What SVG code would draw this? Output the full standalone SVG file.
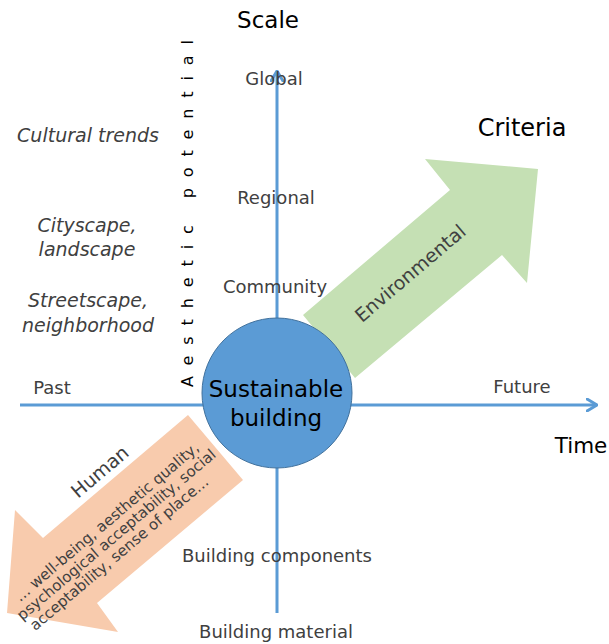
<svg xmlns="http://www.w3.org/2000/svg" width="609" height="644" viewBox="0 0 609 644">
<style>
.lbl{font-family:"DejaVu Sans",sans-serif;font-size:18px;fill:#404040;text-anchor:middle}
.ttl{font-family:"DejaVu Sans",sans-serif;fill:#000;text-anchor:middle}
.it{font-family:"DejaVu Sans",sans-serif;font-style:italic;font-size:19px;fill:#404040;text-anchor:middle}
.axis{stroke:#5b9bd5;stroke-width:3;fill:none}
.arrtxt{font-family:"DejaVu Sans",sans-serif;fill:#404040;text-anchor:middle}
</style>
<defs>
<marker id="chev" viewBox="0 0 12 14" refX="11" refY="7" markerWidth="12" markerHeight="14" markerUnits="userSpaceOnUse" orient="auto">
<path d="M1,1 L11,7 L1,13" fill="none" stroke="#5b9bd5" stroke-width="3" stroke-linecap="round" stroke-linejoin="round"/>
</marker>
</defs>
<rect width="609" height="644" fill="#fff"/>
<g id="connectors">
<line class="axis" x1="20" y1="405" x2="597" y2="405" marker-end="url(#chev)"/>
<line class="axis" x1="277" y1="613" x2="277" y2="71" marker-end="url(#chev)"/>
</g>
<g id="environmental">
<polygon points="303,315 450,190 425,159 538,169 527,283 502,255 355,378" fill="#c5e0b4"/>
<text class="arrtxt" font-size="19" transform="translate(410,273) rotate(-40.4)" x="0" y="7">Environmental</text>
</g>
<g id="human">
<polygon points="188,415 243,480 97,603 118,632 7,613 15,510 43,538" fill="#f8cbad"/>
<g transform="translate(188,415) rotate(-40.3)">
<text class="arrtxt" font-size="19" x="-104" y="-7">Human</text>
<text class="arrtxt" font-size="15" x="-131" y="34">… well-being, aesthetic quality,</text>
<text class="arrtxt" font-size="15" x="-132" y="50">psychological acceptability, social</text>
<text class="arrtxt" font-size="15" x="-142" y="66">acceptability, sense of place…</text>
</g>
</g>
<g id="sustainable-building">
<circle cx="277" cy="393" r="75" fill="#5b9bd5" stroke="#41719c" stroke-width="1"/>
<text class="ttl" font-size="23" x="276" y="397" fill="#111">Sustainable</text>
<text class="ttl" font-size="23" x="276" y="426" fill="#111">building</text>
</g>
<g id="scale-labels">
<text class="ttl" font-size="23" x="268" y="28">Scale</text>
<text class="lbl" x="274" y="85">Global</text>
<text class="lbl" x="276" y="204">Regional</text>
<text class="lbl" x="275" y="293">Community</text>
<text class="lbl" x="277" y="562">Building components</text>
<text class="lbl" x="276" y="638">Building material</text>
</g>
<g id="time-labels">
<text class="lbl" x="52" y="394">Past</text>
<text class="lbl" x="522" y="393">Future</text>
<text class="ttl" font-size="21.5" x="581" y="453">Time</text>
</g>
<g id="criteria-label">
<text class="ttl" font-size="24" x="522" y="136">Criteria</text>
</g>
<g id="aesthetic-labels">
<text class="it" x="88" y="142">Cultural trends</text>
<text class="it" x="87" y="232">Cityscape,</text>
<text class="it" x="87" y="256">landscape</text>
<text class="it" x="88" y="307">Streetscape,</text>
<text class="it" x="88" y="332">neighborhood</text>
<text font-family="DejaVu Sans, sans-serif" font-size="16" fill="#000" transform="translate(193,387) rotate(-90)" x="0" y="0" textLength="347" lengthAdjust="spacing">Aesthetic potential</text>
</g>
</svg>
